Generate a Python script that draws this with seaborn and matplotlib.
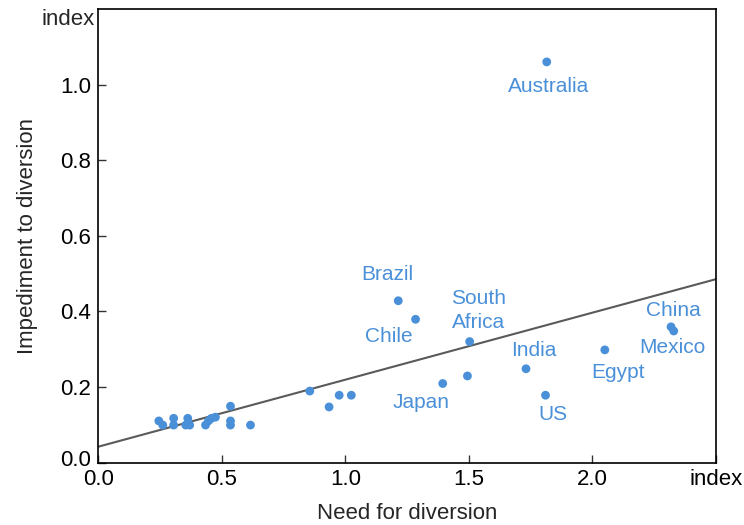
import matplotlib
matplotlib.use("Agg")
import matplotlib.pyplot as plt
import matplotlib.transforms as mtransforms
import seaborn as sns
import pandas as pd

# ---- data ----
need = [1.815, 1.214, 1.284, 1.503, 1.731, 2.050, 1.810, 2.318, 2.329, 1.394, 1.494,
        0.856, 0.975, 1.024, 0.934,
        0.245, 0.261, 0.305, 0.305, 0.354, 0.362, 0.370, 0.434, 0.446, 0.458, 0.474,
        0.535, 0.535, 0.535, 0.616]
impediment = [1.060, 0.428, 0.379, 0.320, 0.248, 0.298, 0.178, 0.359, 0.348, 0.209, 0.229,
              0.189, 0.178, 0.178, 0.147,
              0.110, 0.099, 0.117, 0.099, 0.099, 0.117, 0.099, 0.099, 0.110, 0.117, 0.120,
              0.149, 0.110, 0.099, 0.099]
countries = ["Australia", "Brazil", "Chile", "South\nAfrica", "India", "Egypt", "US",
             "China", "Mexico", "Japan", "", "", "", "", "",
             "", "", "", "", "", "", "", "", "", "", "", "", "", "", ""]
# label offsets in pixels (dx, dy)
label_offsets = {"Australia": (2, -25), "Brazil": (-11, 26), "Chile": (-27, -17),
                 "South\nAfrica": (9, 31), "India": (8, 18), "Egypt": (13, -23),
                 "China": (2, 16), "Mexico": (-1, -17), "US": (7, -19), "Japan": (-22, -19)}
x_ticks = [0.0, 0.5, 1.0, 1.5, 2.0, 2.5]
x_tick_labels = ["0.0", "0.5", "1.0", "1.5", "2.0", "index"]
y_ticks = [0.0, 0.2, 0.4, 0.6, 0.8, 1.0]
y_tick_labels = ["0.0", "0.2", "0.4", "0.6", "0.8", "1.0"]

df = pd.DataFrame({"need": need, "impediment": impediment, "country": countries})

sns.set_theme(style="ticks")
plt.rcParams["font.family"] = ["Liberation Sans", "DejaVu Sans"]

BLUE = "#4a90d9"
fig = plt.figure(figsize=(7.44, 5.25), dpi=100)
ax = fig.add_axes([98.3 / 744, 1 - 462.5 / 525, (716 - 98.3) / 744, (462.5 - 9) / 525])
ax.set_xlim(0, 2.5)
ax.set_ylim(0, 1.2)

sns.regplot(data=df, x="need", y="impediment", ax=ax, ci=None, truncate=False,
            scatter=False, line_kws={"color": "#5a5a5a", "lw": 1.5})
sns.scatterplot(data=df, x="need", y="impediment", ax=ax, color=BLUE, s=40,
                edgecolor="none", zorder=3)

for _, r in df.iterrows():
    if r["country"]:
        dx, dy = label_offsets[r["country"]]
        ax.annotate(r["country"], (r["need"], r["impediment"]),
                    xytext=(dx * 0.72, dy * 0.72), textcoords="offset points",
                    ha="center", va="center", color=BLUE, fontsize=15,
                    linespacing=1.3)

ax.set_xlim(0, 2.5)
ax.set_ylim(0, 1.2)
ax.set_xticks(x_ticks)
ax.set_xticklabels(x_tick_labels)
ax.set_yticks(y_ticks)
ax.set_yticklabels(y_tick_labels)
ax.tick_params(direction="in", length=6, width=1, labelsize=16, color="#333333",
               labelcolor="black", pad=5)
for s in ax.spines.values():
    s.set_linewidth(1.2)
    s.set_color("black")

# lift the y "0.0" label slightly
lbl = ax.get_yticklabels()[0]
lbl.set_transform(lbl.get_transform() + mtransforms.ScaledTranslation(0, 5 / 100, fig.dpi_scale_trans))

ax.set_xlabel("Need for diversion", fontsize=16, labelpad=9)
ax.set_ylabel("Impediment to diversion", fontsize=16, labelpad=16)
ax.text(-0.006, 1.172, "index", transform=mtransforms.blended_transform_factory(ax.transAxes, ax.transData),
        ha="right", va="center", fontsize=16)

fig.savefig("out.png", dpi=100)
